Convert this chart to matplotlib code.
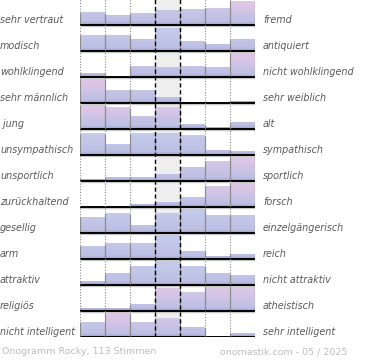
import numpy as np
import matplotlib
matplotlib.use('Agg')
import matplotlib.pyplot as plt
import matplotlib.transforms as mtransforms
from matplotlib.colors import to_rgb

# --------------------------------------------------
# data: bar heights per row (px units, row height 26)
# --------------------------------------------------
left_labels = ['sehr vertraut', 'modisch', 'wohlklingend', 'sehr männlich', ' jung',
               'unsympathisch', 'unsportlich', 'zurückhaltend', 'gesellig', 'arm',
               'attraktiv', 'religiös', 'nicht intelligent']
right_labels = ['fremd', 'antiquiert', 'nicht wohlklingend', 'sehr weiblich', 'alt',
                'sympathisch', 'sportlich', 'forsch', 'einzelgängerisch', 'reich',
                'nicht attraktiv', 'atheistisch', 'sehr intelligent']

values = [
    [12.3, 9.7, 11.3, 14.7, 15.7, 16.7, 24.0],
    [16.0, 16.0, 11.3, 23.0, 9.3, 6.7, 11.3],
    [3.7, 0.0, 10.7, 10.0, 10.7, 9.3, 23.7],
    [24.0, 12.7, 12.7, 5.3, 0.0, 0.0, 1.5],
    [24.0, 21.3, 12.3, 21.3, 4.3, 1.3, 6.3],
    [21.3, 10.3, 21.3, 21.3, 19.3, 5.0, 4.0],
    [1.3, 4.0, 4.0, 6.7, 13.3, 19.7, 25.0],
    [0.0, 0.0, 3.0, 4.3, 10.0, 20.7, 24.0],
    [16.0, 19.3, 8.0, 20.0, 24.0, 17.3, 17.3],
    [13.0, 15.3, 15.3, 24.0, 8.0, 2.7, 4.7],
    [3.7, 11.3, 19.0, 24.0, 19.0, 11.3, 10.0],
    [2.7, 2.7, 6.3, 23.0, 18.3, 24.0, 24.0],
    [14.3, 24.3, 15.0, 18.7, 9.3, 0.0, 4.0],
]

# share of pink tint per bar (0 = blue, 1 = pink)
tint = [
    [0.3, 0.5, 0.4, 0.5, 0.5, 0.6, 1.0],
    [0.1, 0.1, 0.1, 0.0, 0.1, 0.1, 0.1],
    [0.3, 0.0, 0.4, 0.4, 0.4, 0.4, 1.0],
    [1.0, 0.5, 0.5, 0.4, 0.0, 0.0, 0.7],
    [1.0, 0.9, 0.5, 0.9, 0.3, 0.3, 0.3],
    [0.1, 0.1, 0.0, 0.0, 0.1, 0.3, 0.3],
    [0.5, 0.5, 0.5, 0.5, 0.4, 0.8, 0.9],
    [0.0, 0.0, 0.5, 0.5, 0.5, 0.9, 1.0],
    [0.1, 0.1, 0.2, 0.1, 0.0, 0.1, 0.1],
    [0.1, 0.1, 0.1, 0.0, 0.3, 0.3, 0.3],
    [0.2, 0.2, 0.1, 0.0, 0.1, 0.2, 0.2],
    [0.3, 0.3, 0.4, 0.9, 0.7, 0.9, 0.9],
    [0.3, 1.0, 0.5, 0.8, 0.4, 0.0, 0.4],
]

footer_left = 'Onogramm Rocky, 113 Stimmen'
footer_right = 'onomastik.com - 05 / 2025'

ROW_H = 26
n_rows = len(values)
n_cols = len(values[0])

blue_top = np.array(to_rgb('#c4cbea'))
pink_top = np.array(to_rgb('#dfc6e6'))
mid_col = np.array(to_rgb('#bcc0e4'))
bot_col = np.array(to_rgb('#9e8fc6'))


def bar_gradient(h, t_pink):
    top = blue_top * (1 - t_pink) + pink_top * t_pink
    t = np.linspace(0, h, max(int(h * 4), 2))
    s = np.clip((t - 3) / 18.0, 0, 1)[:, None]
    c = top * s + mid_col * (1 - s)
    w = np.clip(1 - t / 3.5, 0, 1)[:, None] ** 1.5
    c = c * (1 - w) + bot_col * w
    return c[:, None, :]


fig = plt.figure(figsize=(3.7, 3.6), dpi=100)
ax = fig.add_axes([80 / 370, 23 / 360, 175 / 370, 337 / 360])
ax.set_axis_off()

# middle column background
ax.axvspan(3, 4, color='#eeeeee', zorder=0, lw=0)

for i, row in enumerate(values):
    yb = (n_rows - 1 - i) * ROW_H
    for j, h in enumerate(row):
        if h <= 0:
            continue
        ax.imshow(bar_gradient(h, tint[i][j]), extent=(j, j + 1, yb, yb + h),
                  origin='lower', aspect='auto', interpolation='bilinear', zorder=2)
        ax.vlines([j, j + 1], yb, yb + h, color='#8e8e8e', lw=0.8, zorder=3)
    # baseline with soft shadow
    ax.hlines(yb - 1.2, 0, 7.04, color='#c8c8c8', lw=1.0, zorder=4)
    ax.hlines(yb, 0, 7.04, color='black', lw=1.4, zorder=5)

# grid lines
ax.vlines([0, 1, 2, 5, 6, 7], 0, n_rows * ROW_H, color='#888888', lw=0.8,
          linestyles=(0, (1, 1.5)), zorder=6)
ax.vlines([3, 4], 0, n_rows * ROW_H, color='black', lw=1.0,
          linestyles=(0, (3, 2)), zorder=6)

ax.set_xlim(0, n_cols)
ax.set_ylim(0, n_rows * ROW_H - 1)

# row labels
trans = mtransforms.blended_transform_factory(fig.transFigure, ax.transData)
for i in range(n_rows):
    yb = (n_rows - 1 - i) * ROW_H
    ax.text(0.0, yb + 2, left_labels[i], transform=trans, ha='left', va='baseline',
            fontsize=6.9, style='italic', color='#5a5a5a', clip_on=False)
    ax.text(263 / 370, yb + 2, right_labels[i], transform=trans, ha='left',
            va='baseline', fontsize=6.9, style='italic', color='#5a5a5a', clip_on=False)

# footer
fig.text(2 / 370, 1 - 352 / 360, footer_left, ha='left', va='center',
         fontsize=6.8, color='#bdbdbd')
fig.text(347 / 370, 1 - 352 / 360, footer_right, ha='right', va='center',
         fontsize=6.8, color='#bdbdbd')

fig.savefig('out.png', dpi=100)
